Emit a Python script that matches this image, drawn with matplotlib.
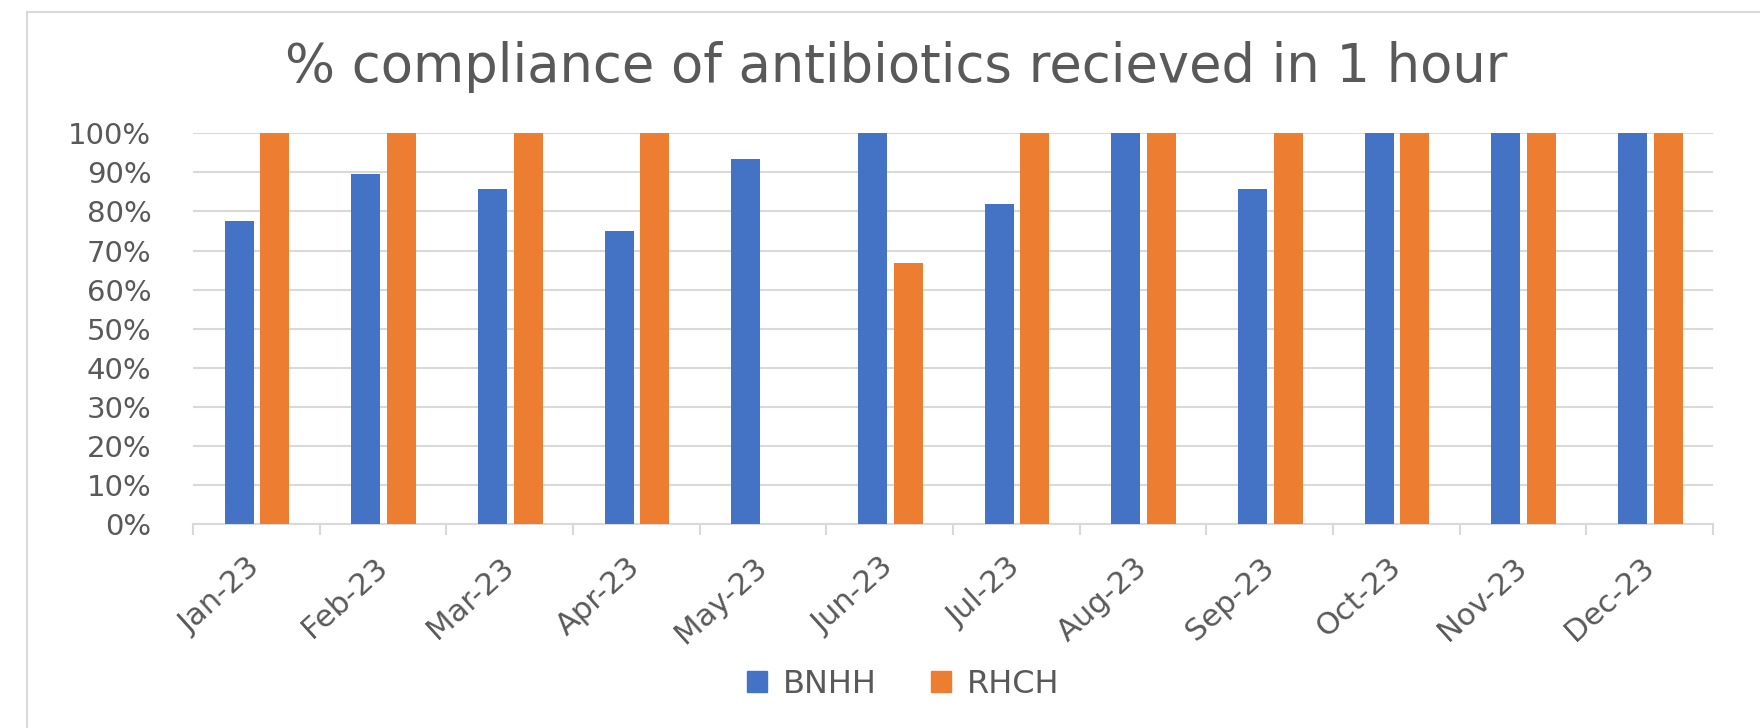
import matplotlib.pyplot as plt
import numpy as np
from matplotlib.lines import Line2D
from matplotlib.patches import Patch

# data
months = ['Jan-23', 'Feb-23', 'Mar-23', 'Apr-23', 'May-23', 'Jun-23',
          'Jul-23', 'Aug-23', 'Sep-23', 'Oct-23', 'Nov-23', 'Dec-23']
bnhh = [0.775, 0.895, 0.857, 0.75, 0.933, 1.0, 0.818, 1.0, 0.857, 1.0, 1.0, 1.0]
rhch = [1.0, 1.0, 1.0, 1.0, np.nan, 0.667, 1.0, 1.0, 1.0, 1.0, 1.0, 1.0]

blue = '#4472C4'
orange = '#ED7D31'
grid_col = '#D9D9D9'
txt_col = '#595959'

fig = plt.figure(figsize=(17.6, 7.28), dpi=100)
ax = fig.add_axes([0.1097, 0.2802, 0.8636, 0.5367])

x = np.arange(len(months))
width = 0.23
ax.bar(x - 0.136, bnhh, width, color=blue, zorder=3)
ax.bar(x + 0.146, rhch, width, color=orange, zorder=3)

ax.set_xlim(-0.5, len(months) - 0.5)
ax.set_ylim(0, 1)
ax.set_yticks(np.arange(0, 1.01, 0.1))
ax.set_yticklabels([f'{int(round(v * 100))}%' for v in np.arange(0, 1.01, 0.1)])
ax.grid(True, axis='y', color=grid_col, linewidth=1.5, zorder=0)
for s in ['top', 'right', 'left']:
    ax.spines[s].set_visible(False)
ax.spines['bottom'].set_color(grid_col)
ax.spines['bottom'].set_linewidth(1.5)

ax.tick_params(axis='y', length=0, pad=30, labelsize=21, labelcolor=txt_col)
ax.set_xticks(x)
ax.set_xticklabels(months, rotation=42, ha='right', va='center',
                   rotation_mode='anchor')
ax.set_xticks(np.arange(-0.5, len(months), 1), minor=True)
ax.tick_params(axis='x', which='major', length=0, pad=28, labelsize=22,
               labelcolor=txt_col)
ax.tick_params(axis='x', which='minor', length=8, width=1.5, color=grid_col)

fig.text(0.509, 0.888, '% compliance of antibiotics recieved in 1 hour',
         ha='center', va='baseline', fontsize=38, color=txt_col)

# chart area border (left and top)
fig.add_artist(Line2D([0.0153, 0.0153], [0, 0.9835], color=grid_col, lw=1.5))
fig.add_artist(Line2D([0.0153, 1], [0.9835, 0.9835], color=grid_col, lw=1.5))

handles = [Patch(color=blue, label='BNHH'), Patch(color=orange, label='RHCH')]
fig.legend(handles=handles, loc='center', bbox_to_anchor=(0.513, 0.06), ncol=2,
           frameon=False, fontsize=23, labelcolor=txt_col, handlelength=0.62,
           handleheight=0.62, handletextpad=0.5, columnspacing=1.7)

fig.savefig('out.png', dpi=100)
